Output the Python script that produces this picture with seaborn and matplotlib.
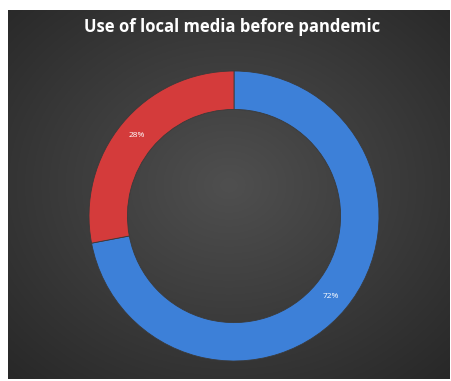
import numpy as np
import matplotlib
matplotlib.use("Agg")
import matplotlib.pyplot as plt
import seaborn as sns

# Share of respondents using local media before the pandemic
categories = ["Yes", "No"]
shares = [72, 28]
slice_colors = ["#3d80d8", "#d43b3b"]
title_text = "Use of local media before pandemic"

sns.set_theme(style="white")
plt.rcParams["font.family"] = ["Open Sans", "DejaVu Sans"]

W, H = 452, 381
fig = plt.figure(figsize=(W / 100, H / 100), dpi=100)
fig.patch.set_facecolor("white")

# Dark panel with a soft radial gradient
px0, py0, px1, py1 = 8, 10, 450, 379
bg = fig.add_axes([px0 / W, (H - py1) / H, (px1 - px0) / W, (py1 - py0) / H])
gx, gy = np.meshgrid(np.linspace(-1, 1, 300), np.linspace(-1, 1, 250))
dist = np.sqrt(gx ** 2 + (gy - 0.05) ** 2) / np.sqrt(2)
shade = 0.31 - 0.15 * dist
img = np.dstack([shade, shade, shade])
bg.imshow(img, aspect="auto", extent=[0, 1, 0, 1], origin="lower")
bg.set_axis_off()

# Title
fig.text(232 / W, 1 - 27 / H, title_text, color="white", fontsize=12,
         fontweight="bold", ha="center", va="center")

# Donut
cx, cy, R = 234, 216, 145
pie_ax = fig.add_axes([(cx - R) / W, (H - cy - R) / H, 2 * R / W, 2 * R / H])
palette = sns.color_palette(slice_colors)
wedges, texts, autotexts = pie_ax.pie(
    shares, colors=palette, startangle=90, counterclock=False,
    autopct="%1.0f%%", pctdistance=0.87, radius=1.0,
    wedgeprops=dict(width=0.265, edgecolor="#3a3a3a", linewidth=0.6),
    textprops=dict(color="white", fontsize=6),
)
pie_ax.set_xlim(-1, 1)
pie_ax.set_ylim(-1, 1)
pie_ax.set_aspect("equal")
pie_ax.set_axis_off()

fig.savefig("out.png", dpi=100)
